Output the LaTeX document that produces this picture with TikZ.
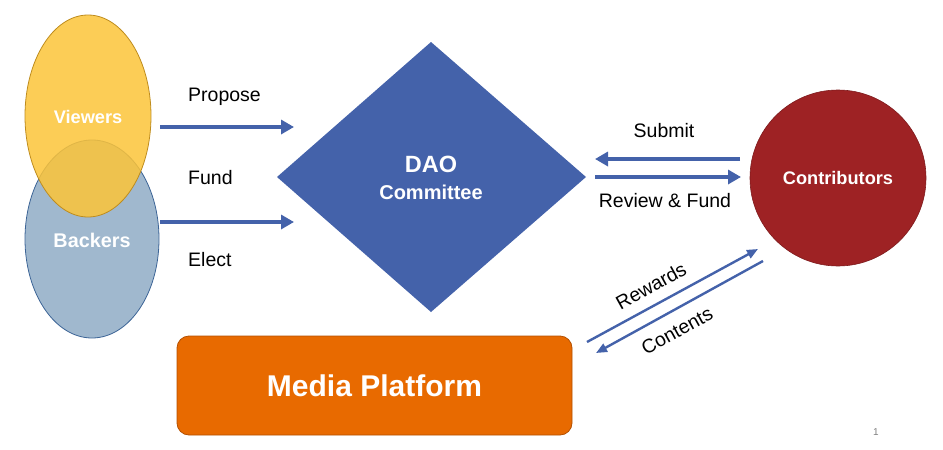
\documentclass[tikz,border=0pt]{standalone}
\usepackage{fontspec}
\setmainfont{Liberation Sans}
\usetikzlibrary{arrows.meta,shapes.geometric}
\definecolor{dblue}{RGB}{68,98,170}
\definecolor{vyellow}{RGB}{252,196,56}
\definecolor{vborder}{RGB}{190,140,30}
\definecolor{bblue}{RGB}{160,184,206}
\definecolor{bborder}{RGB}{60,100,150}
\definecolor{cred}{RGB}{158,34,36}
\definecolor{morange}{RGB}{232,106,0}
\definecolor{mborder}{RGB}{180,80,0}
\tikzset{
  flow/.style={draw=dblue, line width=4pt, -{Triangle[length=13pt,width=14pt]}},
  thinflow/.style={draw=dblue, line width=2.4pt, -{Triangle[length=11pt,width=9pt]}},
  lbl/.style={font=\fontsize{19.5}{23}\selectfont, text=black, inner sep=1pt},
  wtxt/.style={text=white, font=\bfseries\fontsize{18.2}{21}\selectfont},
}
\begin{document}
\begin{tikzpicture}[x=1pt,y=-1pt]
\useasboundingbox (0,0) rectangle (943,450);
% ellipses
\draw[fill=bblue, draw=bborder, line width=0.8pt] (92,239) ellipse [x radius=67, y radius=99];
\draw[fill=vyellow, fill opacity=0.85, draw=vborder, line width=0.8pt] (88,116) ellipse [x radius=63, y radius=101];
\node[wtxt] (viewers) at (88,117) {Viewers};
\node[wtxt, font=\bfseries\fontsize{19.8}{23}\selectfont] (backers) at (92,240) {Backers};
% diamond
\fill[dblue] (431,42) -- (586,177) -- (431,312) -- (277,177) -- cycle;
\node[text=white, font=\bfseries\fontsize{23.5}{27}\selectfont] (dao) at (431,164) {DAO};
\node[text=white, font=\bfseries\fontsize{20}{23}\selectfont] (committee) at (431,192) {Committee};
% contributors
\node[circle, fill=cred, draw=cred!80!black, line width=0.6pt, minimum size=176pt, inner sep=0pt] (contrib) at (838,178) {};
\node[wtxt] at (contrib.center) {Contributors};
% media platform
\node[draw=mborder, line width=0.8pt, fill=morange, rounded corners=12pt, minimum width=395pt, minimum height=99pt, text=white, font=\bfseries\fontsize{30}{34}\selectfont] (media) at (374.5,385.5) {Media Platform};
% coordinates
\coordinate (p1) at (160,127); \coordinate (p2) at (294,127);
\coordinate (f1) at (160,222); \coordinate (f2) at (294,222);
\coordinate (s1) at (740,159); \coordinate (s2) at (595,159);
\coordinate (r1) at (595,177); \coordinate (r2) at (741,177);
\coordinate (w1) at (587,342); \coordinate (w2) at (758,249);
\coordinate (c1) at (763,261); \coordinate (c2) at (596,353);
\draw[flow] (p1) -- (p2);
\draw[flow] (f1) -- (f2);
\draw[flow] (s1) -- (s2);
\draw[flow] (r1) -- (r2);
\draw[thinflow] (w1) -- (w2);
\draw[thinflow] (c1) -- (c2);
% labels
\node[lbl, anchor=west] (propose) at (187,97) {Propose};
\node[lbl, anchor=west] (fund) at (187,178) {Fund};
\node[lbl, anchor=west] (elect) at (187,260) {Elect};
\node[lbl] (submit) at (664,131) {Submit};
\node[lbl] (review) at (665,201) {Review \& Fund};
\node[lbl, rotate=29, inner sep=0pt] (rewards) at (651,286) {Rewards};
\node[lbl, rotate=29, inner sep=0pt] (contents) at (677,331) {Contents};
\node[text=gray, font=\fontsize{10}{12}\selectfont] (pagenum) at (876,432) {1};
\end{tikzpicture}
\end{document}
